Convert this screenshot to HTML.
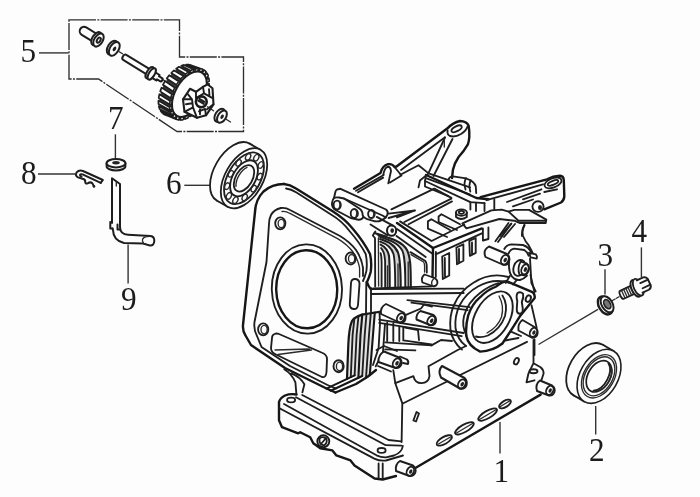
<!DOCTYPE html>
<html><head><meta charset="utf-8">
<style>
html,body{margin:0;padding:0;background:#fdfdfd;overflow:hidden;}
svg{display:block;filter:blur(0.45px);}
text{font-family:"Liberation Serif",serif;font-size:34px;fill:#1c1c1c;}
.l{fill:none;stroke:#1e1e1e;stroke-width:1.85;stroke-linecap:round;stroke-linejoin:round;}
.t{fill:none;stroke:#2a2a2a;stroke-width:1.35;stroke-linecap:round;stroke-linejoin:round;}
.k{fill:none;stroke:#161616;stroke-width:2.4;stroke-linecap:round;stroke-linejoin:round;}
.w{fill:#fdfdfd;stroke:#1e1e1e;stroke-width:1.85;stroke-linecap:round;stroke-linejoin:round;}
.b{stroke-width:2;}
.ld{fill:none;stroke:#333;stroke-width:1.4;}
.d{fill:#222;stroke:none;}
</style></head><body>
<svg width="700" height="497" viewBox="0 0 700 497">
<rect width="700" height="497" fill="#fdfdfd"/>
<g id="labels">
<text x="20.4" y="62.3" textLength="15.6" lengthAdjust="spacingAndGlyphs">5</text>
<text x="20.9" y="183.5" textLength="15.6" lengthAdjust="spacingAndGlyphs">8</text>
<text x="107.9" y="129.3" textLength="15.6" lengthAdjust="spacingAndGlyphs">7</text>
<text x="165.9" y="194.3" textLength="15.6" lengthAdjust="spacingAndGlyphs">6</text>
<text x="120.9" y="310" textLength="15.6" lengthAdjust="spacingAndGlyphs">9</text>
<text x="597.4" y="266.4" textLength="15.6" lengthAdjust="spacingAndGlyphs">3</text>
<text x="631.4" y="242.2" textLength="15.6" lengthAdjust="spacingAndGlyphs">4</text>
<text x="588.9" y="461.3" textLength="15.6" lengthAdjust="spacingAndGlyphs">2</text>
<text x="493.4" y="481.7" textLength="15.6" lengthAdjust="spacingAndGlyphs">1</text>
</g>
<g id="leaders" class="ld">
<path d="M39 52.9H68.5"/>
<path d="M38 174H75"/>
<path d="M115.4 134.3V158.5"/>
<path d="M184.3 185.3H211"/>
<path d="M128.1 244.5V283.6"/>
<path d="M605 269.3V294.5"/>
<path d="M641.4 247.4V277"/>
<path d="M595.7 406V434.5"/>
<path d="M500 422V453.6"/>
</g>
<path d="M69 19.8H179.5V57H243.5V131.5H177L98.5 79H69Z" fill="none" stroke="#2e2e2e" stroke-width="1.35" stroke-dasharray="27 1.3 2 1.3"/>
<g transform="translate(98.5 40.0) rotate(31.5)"><path class="w b" d="M-3 -4.3L-17 -4.3A4.3 4.3 0 0 0 -17 4.3L-3 4.3" /><ellipse class="w b" cx="-2.4" cy="0" rx="4.2" ry="7.3"/><ellipse class="w b" cx="0" cy="0" rx="4.2" ry="7.3"/><ellipse class="l b" cx="0.3" cy="0" rx="1.6" ry="2.8"/></g>
<g transform="translate(114.3 48.8) rotate(31.5)"><ellipse class="w b" cx="-2.4" cy="0" rx="4.4" ry="7.6"/><ellipse class="w b" cx="0" cy="0" rx="4.4" ry="7.6"/><ellipse class="d" cx="0.2" cy="0" rx="1.5" ry="2.6"/></g>
<path class="t" d="M118.8 51.5L122.5 53.8" />
<g transform="translate(150.7 73.3) rotate(31.5)"><path class="w b" d="M-2 -3L-30.5 -3A2 3 0 0 0 -30.5 3L-2 3" /><path class="w b" d="M2 -3.2H8.5V-1.8H12.5A1 1.8 0 0 1 12.5 1.8H8.5V3.2H2Z" /><ellipse class="w b" cx="-1.2" cy="0" rx="2.8" ry="6.4"/><ellipse class="w b" cx="1.2" cy="0" rx="2.8" ry="6.4"/></g>
<path class="t" d="M163.5 80L166 81.6" />
<ellipse transform="translate(177.9 90.0) rotate(30)" rx="14.8" ry="26.5" fill="#3a3a3a"/>
<ellipse transform="translate(189.4 94.2) rotate(30)" rx="14.7" ry="26.2" fill="#3a3a3a"/>
<path d="M202.3 103.5L199.9 106.9L186.6 104.8L189.1 101.5ZM198.0 109.4L195.3 112.3L181.8 109.6L184.6 107.0ZM193.1 114.2L190.2 116.4L176.7 113.2L179.7 111.3ZM188.0 117.7L185.1 119.0L171.7 115.1L174.6 114.2ZM183.0 119.6L180.3 119.9L167.2 115.4L169.7 115.4ZM178.4 119.8L176.1 119.1L163.3 113.9L165.4 114.9ZM174.5 118.2L172.8 116.5L160.5 110.8L162.0 112.7ZM171.7 115.0L170.6 112.5L158.8 106.2L159.6 109.0ZM170.1 110.3L169.7 107.2L158.4 100.6L158.5 103.9ZM169.8 104.6L170.2 101.0L159.4 94.2L158.7 97.9ZM170.8 98.2L172.0 94.3L161.6 87.6L160.2 91.4ZM173.1 91.5L174.9 87.7L165.0 81.1L162.9 84.8ZM176.5 84.9L178.9 81.5L169.2 75.2L166.7 78.5ZM180.8 79.0L183.5 76.1L174.0 70.4L171.2 73.0ZM185.7 74.2L188.6 72.0L179.1 66.8L176.1 68.7ZM190.8 70.7L193.7 69.4L184.1 64.9L181.2 65.8ZM195.8 68.8L198.5 68.5L188.6 64.6L186.1 64.6ZM200.4 68.6L202.7 69.3L192.5 66.1L190.4 65.1ZM204.3 70.2L206.0 71.9L195.3 69.2L193.8 67.3ZM207.1 73.4L208.2 75.9L197.0 73.8L196.2 71.0ZM208.7 78.1L209.1 81.2L197.4 79.4L197.3 76.1ZM209.0 83.8L208.6 87.4L196.4 85.8L197.1 82.1ZM208.0 90.2L206.8 94.1L194.2 92.4L195.6 88.6ZM205.7 96.9L203.9 100.7L190.8 98.9L192.9 95.2Z" fill="#fdfdfd" stroke="#1e1e1e" stroke-width="1.7" stroke-linejoin="round"/>
<path d="M201.1 102.0L202.3 103.5L199.9 106.9L198.4 105.9ZM197.3 107.2L198.0 109.4L195.3 112.3L194.3 110.5ZM193.0 111.6L193.1 114.2L190.2 116.4L189.8 114.1ZM188.5 114.8L188.0 117.7L185.1 119.0L185.2 116.3ZM184.0 116.6L183.0 119.6L180.3 119.9L181.0 117.0ZM179.9 116.9L178.4 119.8L176.1 119.1L177.3 116.1ZM176.5 115.6L174.5 118.2L172.8 116.5L174.5 113.7ZM173.9 112.8L171.7 115.0L170.6 112.5L172.7 110.0ZM172.4 108.8L170.1 110.3L169.7 107.2L172.0 105.3ZM172.0 103.8L169.8 104.6L170.2 101.0L172.5 99.8ZM172.8 98.2L170.8 98.2L172.0 94.3L174.1 93.9ZM174.8 92.2L173.1 91.5L174.9 87.7L176.8 88.0ZM177.7 86.4L176.5 84.9L178.9 81.5L180.4 82.5ZM181.5 81.2L180.8 79.0L183.5 76.1L184.5 77.9ZM185.8 76.8L185.7 74.2L188.6 72.0L189.0 74.3ZM190.3 73.6L190.8 70.7L193.7 69.4L193.6 72.1ZM194.8 71.8L195.8 68.8L198.5 68.5L197.8 71.4ZM198.9 71.5L200.4 68.6L202.7 69.3L201.5 72.3ZM202.3 72.8L204.3 70.2L206.0 71.9L204.3 74.7ZM204.9 75.6L207.1 73.4L208.2 75.9L206.1 78.4ZM206.4 79.6L208.7 78.1L209.1 81.2L206.8 83.1ZM206.8 84.6L209.0 83.8L208.6 87.4L206.3 88.6ZM206.0 90.2L208.0 90.2L206.8 94.1L204.7 94.5ZM204.0 96.2L205.7 96.9L203.9 100.7L202.0 100.4Z" fill="#fdfdfd" stroke="#1e1e1e" stroke-width="1.3" stroke-linejoin="round"/>
<ellipse class="w b" transform="translate(189.4 94.2) rotate(30)" rx="14.0" ry="25.0" />
<g transform="translate(0 1.3)">
<path class="w b" d="M190 87.5L196 90.5L203 85.5L207.5 83L212.5 87L213.5 103L206 114L197 116.5L184.5 110.5L183 98Z" style="stroke-width:2.1"/>
<path class="l b" d="M196 90.5L196 97M203 85.5L204 92L213 97M184.5 110.5L193 106L197 116.5M193 106L192 98L183 98M204 92L196 97M207 108L213.5 103M188 93L192 98M209 88L209.5 95M186 103L192 102M199 110L205 107.5L206 114M200 113L200 108" style="stroke-width:1.9"/>
<circle cx="201.3" cy="100.5" r="5.4" fill="#fdfdfd" stroke="#1a1a1a" stroke-width="2.6"/>
<path class="l b" d="M198.3 99.3L203.8 102.6M199.5 97.5L204.5 100.5" />
<path class="t" d="M207.5 105.5L213.5 109.5" />
</g>
<g transform="translate(221.6 116.4) rotate(31.5)"><ellipse class="w b" cx="-2.2" cy="0" rx="4.4" ry="7.2" style="stroke-width:2"/><ellipse class="w b" cx="0.4" cy="0" rx="4" ry="6.8"/><ellipse class="d" cx="0.6" cy="0" rx="1.5" ry="2.4"/></g>
<path class="t" d="M226.5 119.5L230.5 122" />
<path class="w b" d="M106.6 163.3V166.3A9.4 4.2 0 0 0 125.4 166.3V163.3" style="stroke-width:2"/>
<ellipse class="w b" cx="116" cy="163.2" rx="9.4" ry="4.2" style="stroke-width:2"/>
<ellipse class="d" cx="116" cy="162.8" rx="3.8" ry="1.7"/>
<path class="l b" d="M100.7 182.9L102.9 180L83 171Q79 169.6 76.6 172.4Q74.8 175.5 78 177.4L82.5 178.8Q85.6 179.4 85.2 182Q85.4 184.4 88 183.1Q90.6 181.6 92.3 183.3Q93.4 185 93.8 186.3" />
<path class="l b" d="M100.7 182.9L82.6 174.4Q80.6 173.7 79.9 174.9Q79.8 176 81.6 176.6" />
<circle class="d" cx="94" cy="186.4" r="1.3"/>
<path class="l b" d="M112 223V178.2L120 184V227Q120.2 234.5 128 234.8L150.5 236Q154.5 236.5 154.3 241Q154 245.8 150 245.5L143 243.6L124 243Q113.2 240.5 113 230L112.5 228.5" />
<path class="t" d="M116.3 181.5V186" />
<path class="l b" d="M110.3 222V228.5L112.5 228.5M117.5 224.5V229.5H120" />
<path class="t" d="M150 236.3Q141.5 236.5 142.5 241Q143 243.8 146 244.2" />
<ellipse class="w" transform="translate(233.2 172.1) rotate(30)" rx="18.9" ry="32.9" style="stroke-width:1.8"/>
<path d="M260.4 149.8 L249.6 143.6 L216.7 200.5 L227.6 206.8 Z" fill="#fdfdfd" stroke="none"/>
<path class="l" d="M260.4 149.8L249.6 143.6M216.7 200.5L227.6 206.8" style="stroke-width:1.8"/>
<ellipse class="w" transform="translate(244.0 178.3) rotate(30)" rx="18.9" ry="32.9" style="stroke-width:1.8"/>
<ellipse class="l" transform="translate(244.0 178.3) rotate(30)" rx="16.253999999999998" ry="28.293999999999997" />
<ellipse class="t" transform="translate(253.7 188.6) rotate(30)" rx="2.3" ry="3.5"/>
<ellipse class="t" transform="translate(244.7 197.4) rotate(30)" rx="2.3" ry="3.5"/>
<ellipse class="t" transform="translate(235.4 200.2) rotate(30)" rx="2.3" ry="3.5"/>
<ellipse class="t" transform="translate(228.9 195.9) rotate(30)" rx="2.3" ry="3.5"/>
<ellipse class="t" transform="translate(227.1 186.1) rotate(30)" rx="2.3" ry="3.5"/>
<ellipse class="t" transform="translate(230.8 173.8) rotate(30)" rx="2.3" ry="3.5"/>
<ellipse class="t" transform="translate(238.6 162.9) rotate(30)" rx="2.3" ry="3.5"/>
<ellipse class="t" transform="translate(248.1 156.9) rotate(30)" rx="2.3" ry="3.5"/>
<ellipse class="t" transform="translate(256.3 157.7) rotate(30)" rx="2.3" ry="3.5"/>
<ellipse class="t" transform="translate(260.7 165.0) rotate(30)" rx="2.3" ry="3.5"/>
<ellipse class="t" transform="translate(259.7 176.6) rotate(30)" rx="2.3" ry="3.5"/>
<ellipse class="w" transform="translate(244.0 178.3) rotate(30)" rx="11.339999999999998" ry="19.74" />
<ellipse class="l" transform="translate(244.0 178.3) rotate(30)" rx="8.315999999999999" ry="14.475999999999999" style="stroke-width:1.8"/>
<g transform="translate(244.0 178.3) rotate(30)"><path class="t" d="M-2.9 -11A8.3 14.5 0 0 0 -2.9 11"/></g>
<path class="ld" d="M598 309.3L538.5 344.5" />
<path class="t" d="M612.5 300.5L619.5 296.5" stroke-dasharray="3 1.5"/>
<g transform="translate(606.6 304.6) rotate(-31)"><ellipse class="w" cx="-1.6" cy="0" rx="6.3" ry="9.8" style="stroke-width:2.4"/><ellipse class="w" cx="0.6" cy="0" rx="5.4" ry="8.8" style="stroke-width:2"/><ellipse cx="0.8" cy="0" rx="3" ry="5" fill="#777" stroke="#222" stroke-width="1.6"/></g>
<g transform="translate(637.4 287.6) rotate(-25)"><path class="w" d="M-3 -4.4H-17A1.8 4.4 0 0 0 -17 4.4H-3" /><path class="t" d="M-15.6 -4.4V4.4M-13.2 -4.4V4.4M-10.8 -4.4V4.4M-8.4 -4.4V4.4M-6 -4.4V4.4" /><ellipse class="w" cx="-1.6" cy="0" rx="4.4" ry="9" style="stroke-width:2"/><ellipse class="w" cx="1" cy="0" rx="4.4" ry="9" style="stroke-width:1.8"/><path class="w" d="M2.5 -6.8H9.5Q12.5 -6 13 -3.4V3.6Q12.5 6.2 9.5 6.8H2.5" style="stroke-width:1.9"/><path class="l" d="M4.5 -2.8H13M4.5 2.8H13" /></g>
<ellipse class="w" transform="translate(588.2 370.1) rotate(30)" rx="19" ry="29.2" style="stroke-width:1.8"/>
<path d="M613.6 351.0 L602.8 344.8 L573.6 395.3 L584.4 401.6 Z" fill="#fdfdfd" stroke="none"/>
<path class="l" d="M613.6 351.0L602.8 344.8M573.6 395.3L584.4 401.6" style="stroke-width:1.8"/>
<ellipse class="w" transform="translate(599.0 376.3) rotate(30)" rx="19" ry="29.2" style="stroke-width:1.6"/>
<ellipse class="t" transform="translate(599.0 376.3) rotate(30)" rx="15.200000000000001" ry="23.36" />
<ellipse class="t" transform="translate(599.0 376.3) rotate(30)" rx="13.68" ry="21.023999999999997" />
<ellipse class="l" transform="translate(599.0 376.3) rotate(30)" rx="11.02" ry="16.936" style="stroke-width:1.7"/>
<g transform="translate(599.0 376.3) rotate(30)"><path class="l" d="M1.5 -16.1A11.0 16.9 0 0 1 2.5 15.2"/><path class="t" d="M4.5 -14.6A9.5 14.6 0 0 1 5.5 12.8"/></g>
<g id="flange">
<!-- outer outline -->
<path class="k" d="M284 184Q272 184 263.5 191.5Q255.5 199.5 255 212L243 325Q242.5 331 245.5 335.5L251 345L285 368L325.5 388L335.5 392.5"/>
<path class="k" d="M284 184Q290 184.5 296 188.5L333 211.5Q345 219 353 229Q364 242 370 254Q372 262 370.7 272Q369 278 367 282Q368 286 371 289.5"/>
<!-- second (thickness) line -->
<path class="l" d="M286 188.5Q291 189 296.5 192.5L331 214.5Q342 221 349.5 231Q360 243 365.7 254Q367.5 262 366.4 271Q365 277 363 281"/>
<!-- gasket face -->
<path class="l" d="M281 208Q274 209.5 271 215Q269 219 269 224L266.5 262L254.5 322Q253.5 330 257 336L261.5 347L290 366L327.5 385L336 388.5"/>
<path class="l" d="M281 208Q286 207.5 290 210L340 236Q350 242 356 250Q361.5 258 363 268L363 276"/>
<path class="t" d="M282 211.5Q286 211 289.5 213.2L338 238.8Q347.5 244.5 353 252Q358 259.5 359.6 268L359.6 277"/>
<!-- bore -->
<ellipse class="l" transform="translate(306.9 289) rotate(-1.5)" rx="35.1" ry="44.6"/>
<ellipse class="k" transform="translate(306.7 289.3) rotate(-1.5)" rx="30.5" ry="39"/>
<!-- bolt holes -->
<ellipse class="l" cx="280.3" cy="223.3" rx="5.1" ry="6"/>
<ellipse class="t" cx="281.2" cy="223.5" rx="3.1" ry="4.2"/>
<ellipse class="l" cx="350.7" cy="258.5" rx="5.1" ry="6"/>
<ellipse class="t" cx="351.6" cy="258.7" rx="3.1" ry="4.2"/>
<ellipse class="l" cx="263.2" cy="329.4" rx="5.1" ry="6"/>
<ellipse class="t" cx="264.1" cy="329.6" rx="3.1" ry="4.2"/>
<ellipse class="l" cx="338.6" cy="366.2" rx="5.1" ry="6"/>
<ellipse class="t" cx="339.5" cy="366.4" rx="3.1" ry="4.2"/>
<!-- slot -->
<path class="l" d="M351 283Q351.5 278.5 355.5 279Q359.5 279.5 359.5 284L358 305Q357.5 309.5 353.5 309Q349.5 308.5 349.8 304Z"/>
<!-- intake window -->
<path class="l" d="M274.5 334Q272 335 272 338L271 348Q271 352 275 354L322 377Q326 378 326.5 372L327 359Q327 354.5 321.5 352.5L279 334Q276.5 333 274.5 334Z"/>
<path class="t" d="M275 350L309.5 349M278 354.5L311.5 350"/>
</g>

<g id="fins1">
<path class="l" d="M375.3 231.5L372.8 235.5L375 238L375.2 286.5"/>
<path class="t" d="M378.4 238L378.6 286"/>
<!-- nested arches -->
<path d="M377.6 234.6C390 238 402 241 407 250C410.5 257 410.8 266 410.8 288H405.3C405.3 266 405 257 402.5 251C398.5 243 390 240 379.1 236.6Z" fill="#d2d2d2"/>
<path d="M380.1 239.1C389 242 395 245 398 252.5C400.3 259 400.7 267 400.7 288H395.2C395.2 268 395 260 393.5 254C391.5 247 387 244 380.1 241.6Z" fill="#d2d2d2"/>
<path d="M380.6 244.6C385.5 247 388 250 389 256C389.7 262 389.7 268 389.7 287H385.2L385.1 261C384.8 255 383.8 251 381.1 248.1Z" fill="#d2d2d2"/>
<path class="l" style="stroke-width:2.1" d="M377.6 234.6C390 238 402 241 407 250C410.5 257 410.8 266 410.8 288"/>
<path class="l" d="M379.1 236.6C390 240 398.5 243 402.5 251C405 257 405.3 266 405.3 288"/>
<path class="l" style="stroke-width:2.1" d="M380.1 239.1C389 242 395 245 398 252.5C400.3 259 400.7 267 400.7 288"/>
<path class="l" d="M380.1 241.6C387 244 391.5 247 393.5 254C395 260 395.2 268 395.2 288"/>
<path class="l" style="stroke-width:2.1" d="M380.6 244.6C385.5 247 388 250 389 256C389.7 262 389.7 268 389.7 287"/>
<path class="l" d="M381.1 248.1C383.8 251 384.8 255 385.1 261L385.2 287"/>
<path class="l" d="M380.6 253.2C381.5 256 381.6 259 381.6 262L381.6 286.5"/>
<path class="t" d="M408.2 262L408.3 288M398 264L398.1 288M387.5 266L387.5 287"/>
<!-- bottom line -->
<path class="l" d="M373 288.3L431.5 286.4"/>
<!-- cylinder top edge -->
<path class="l" d="M374.5 233L386 236.5M396.5 236L425.7 257"/>
<path class="l" d="M410.4 252.1L425 260.7Q426.6 262.5 426.7 265L426.8 272.5"/><path class="t" d="M411 254.6L423.6 262Q424.6 263.5 424.6 266L424.6 272"/>
<!-- pin -->
<ellipse cx="391.6" cy="230.6" rx="4.6" ry="5.2" fill="#fdfdfd" stroke="#1a1a1a" stroke-width="2"/>
<ellipse class="d" cx="392.2" cy="230.6" rx="1.8" ry="2.4"/>
<!-- dowel -->
<path class="w" d="M424.5 274.5L434.5 278Q438 280 437.3 283.5Q436 287 432.5 286L422.5 282.5Q420.5 278 424.5 274.5Z"/>
<path class="t" d="M432.5 286Q430 282 434.5 278"/>
</g>
<g id="arms">
<!-- upper arm -->
<path class="k" d="M354 188.7L380.5 173Q382.5 165.5 388 164.2Q392.5 163.5 394.5 167L396.5 166.5L447.5 128.3Q453 122.5 460 121Q466.5 121.3 468.6 125.5Q469.6 131 469.3 137Q469 141.5 467.9 144.3Q464 151 458.6 157Q454.5 163 452.9 170L452 178"/>
<path class="l" d="M358 192.2L383.2 177.6M356 190.7L383.7 175M401 170L445 137.3"/>
<ellipse class="l" transform="translate(456.6 128.8) rotate(-27)" rx="5.6" ry="2.4"/>
<path class="l" d="M447.6 130.5Q446.8 134.5 450 136Q455 137.5 461 134Q466.5 130.5 467.5 126.5"/>
<path class="l" d="M445 137.5L428.6 172.9M452.5 139L433.5 176"/>
<path class="t" d="M444.3 139L444.3 147"/>
<!-- lug -->
<path class="l" d="M383.3 174.5Q384.5 168 387.5 166.8Q390.5 166.5 391 171L388.3 183.4M394.5 167Q397 170 401.5 175.5L390 182.5"/>
<!-- box top -->
<path class="l" d="M400.4 174.8L418.5 165.3L428.6 173.4L470 187.4"/>
<path class="l" d="M428.6 173.4L420 180.5L418.5 187.4M426.6 178.4L470 194.5"/>
</g>
<g id="linkplate">
<path class="w" d="M337 189.5L340.5 188.8L386 209.5Q388.5 211.5 387.5 214.5L385.7 217.5Q381 222 375 221.3L366.4 218.8L363.5 217Q361.5 220 358.5 219.8L350.7 218L335.5 210Q331.5 207 332 203Q332.5 199.5 334 198L335.5 191.5Q336 190 337 189.5Z" style="stroke-width:1.9"/>
<path class="l" d="M334 198Q336 197 339 197.5L344 198.5L382.5 215.5Q385 217 385.7 217.5"/>
<path class="l" d="M344 198.5L359 208.3Q362.8 211 362.6 215L363.5 217"/>
<ellipse class="l" cx="337.2" cy="205" rx="3.6" ry="4.4"/>
<ellipse class="l" cx="354.3" cy="213.4" rx="3.6" ry="4.4"/>
<ellipse class="l" cx="371.4" cy="214" rx="3.3" ry="4"/>
<path class="t" d="M339 201.5Q341 205 338.8 208.5M356 210Q358 213.5 356 217M373 211Q374.8 214 373 217.3"/>
</g>
<g id="boxtop">
<!-- crossbeam -->
<path class="k" d="M426 175L476.4 198L488.5 199.2"/>
<path class="l" d="M426 175L425 181L470.4 202.2L484.5 203.2"/>
<path class="l" d="M425 181V186.5L448.3 196.2M470.4 202.2V209.5M476 203V211M484.5 203.2V211"/>
<!-- boss on beam -->
<path class="l" d="M448.5 180Q449 176.5 453 176.3L466 178.3Q474.5 181 475.8 186.5L476.2 193"/>
<path class="l" d="M466 178.3Q463.3 183 465.5 189.5M470.8 180.3Q468.3 185 470.3 191.5"/>
<!-- right arm -->
<path class="k" d="M480.5 197.2L547 179.3Q553 176 560 175.7Q563.6 176 563.8 180L564.3 196.4Q564 200.5 561 202.5L544.3 209.3"/>
<path class="l" d="M486.5 200.2L543 184.3M507 202L541.4 189.3M523 199.3L540 193.6M513 206.4L533 199.5M544.3 192L557 189.3"/>
<ellipse class="l" transform="translate(553 182.9) rotate(-22)" rx="9" ry="4.6"/>
<ellipse class="l" transform="translate(553 182.9) rotate(-22)" rx="5.6" ry="1.9"/>
<ellipse class="w" cx="538" cy="206.6" rx="5.6" ry="5.3" style="stroke-width:1.9"/>
<ellipse class="d" cx="540" cy="207.5" rx="2" ry="2.6"/>
<path class="l" d="M494.3 199.5V210M524.3 225Q521.5 230 522 236M511.4 223.6L500 236M515 224L504 237"/>
<!-- baffle plate -->
<path class="w" d="M462.4 223.4L491.4 210.4L501.7 209.6L508.6 211.6L514.3 209.9L529 209.9L546.3 219.6L545.7 223L520 223L514.3 220.7L499.4 219L466.4 228.4Z" style="stroke-width:1.9"/>
<path class="l" d="M508.6 211.6L518.5 220.7L545 220.7"/>
<!-- small boss -->
<path class="w" d="M456 212.5V217Q461 221 466.8 217V212.5"/>
<ellipse class="w" cx="461.4" cy="212.5" rx="5.4" ry="3.2"/>
<ellipse class="l" cx="461.4" cy="212.3" rx="2.6" ry="1.5"/>
</g>
<g id="boxinner">
<path class="l" d="M391.4 209.3L434.3 188.6L451.4 197.9"/>
<path class="l" d="M404.3 222L451.4 198.6M408.6 224.3L452 201.4"/>
<path class="l" d="M388.6 213.6L415 210.5L388.6 218M415 210.5L397 217.5"/>
<!-- ribs -->
<path class="l" d="M427.9 221.4L431.4 219.3L450 230M427.9 221.4V228.6L447.1 237"/>
<path class="l" d="M438.6 216.4L441.4 214.3L460 224.3M438.6 216.4V222L457 230"/>
<!-- near-left top edge -->
<path class="k" d="M397 222.9L433 248L481.4 228.6"/>
<path class="l" d="M400 221.4L431.6 241L464.3 224.5"/>
<path class="l" d="M397 229L432.9 254"/>
<!-- tube to pin -->
<path class="l" d="M376.7 216.9L393 225.6M370.5 224.5L387.5 235.3" style="stroke-width:1.9"/>
</g>
<g id="boxright">
<path class="k" d="M433 248L432.5 277"/>
<path class="l" d="M435.9 252L435.8 277"/>
<path class="l" d="M435.7 254.3L482.9 232.9M482.9 228.5V240.5L488.4 239V227.5"/>
<!-- slots -->
<path class="l" d="M442.2 256.5L449.2 253V275.5L442.8 279ZM444.8 258L445 276.5"/>
<path class="l" d="M456.4 247.5L463.4 244.3V260.7L457 264.3ZM459 249V262"/>
<path class="l" d="M469.3 240.9L475.7 238V252.9L469.9 255.9ZM472 242.5V253.5"/>
<!-- stud 1 -->
<path class="w" d="M489 246.5L507 254Q510.5 257 509 261.5Q507 266 502.5 264.5L485.5 257Q482.5 250 489 246.5Z" style="stroke-width:1.9"/>
<ellipse class="l" transform="translate(504.8 259.8) rotate(25)" rx="3.6" ry="5"/>
<ellipse class="d" transform="translate(505.2 260) rotate(25)" rx="1.6" ry="2.4"/>
<!-- rod -->
<path class="l" d="M508.5 223L495.4 241.2M511 224L498 242"/>
<!-- right body edge top -->
<path class="l" d="M524.6 225Q521.5 231 523 236Q525.5 242 528.6 245.2L532.7 253"/>
<!-- boss arcs -->
<path class="l" d="M504.3 249Q506.5 244.5 511.4 244.3L522.9 245Q529 247 531.4 252.9"/>
<path class="l" d="M508.5 253.5Q510.5 249 514.3 248.6L524.3 250Q527.5 252 528.6 255.7"/>
<path class="w" d="M529 252.8L535.8 254.4Q537.6 256.5 536.6 258.6L530.6 257.4Z"/>
<path class="l" d="M530 258.6L531.4 283L535.7 291.4"/>
<!-- boss body -->
<path class="l" d="M509 261.5Q508.5 268 510 272.9Q511.5 277 514.3 278.6Q517 280.3 520 280Q524 279 527 275.7"/>
<path class="l" d="M510 275.7L505.7 282.9M517 279.6L513 284.5"/>
<!-- collar + stud 2 -->
<ellipse class="w" transform="translate(519.3 267.9) rotate(20)" rx="5.7" ry="8.2" style="stroke-width:1.9"/>
<path class="w" d="M520.7 261.6L526.6 263.4Q529.5 266 528.8 270Q527.5 274.5 524.3 275.4L519.5 274.6Q517 268 520.7 261.6Z" style="stroke-width:1.8"/>
<ellipse class="l" transform="translate(525 269.3) rotate(22)" rx="3.4" ry="5.2"/>
<ellipse class="d" transform="translate(525.4 269.5) rotate(22)" rx="1.6" ry="2.5"/>
</g>
<g id="port">
<!-- flange plate -->
<path class="k" d="M506.4 281.2L532.5 292.2Q535.5 295 534.5 298.3L520.5 315.4L510.4 331.4L502.4 343.5Q493 351 480.2 351.6Q468 346 466.2 335.5Q465.5 325 468.2 315.4Q472 304 480.2 297.2Q487 290 496.3 286.5Q501.5 281.5 506.4 281.2Z"/>
<ellipse class="l" transform="translate(492.4 317.2) rotate(30)" rx="17" ry="28.1" style="stroke-width:1.9"/>
<path class="l" d="M502.4 295.5Q508 304 505 316Q500.5 329 488 335.5Q481 338 476 336.5"/>
<path class="t" d="M499 296Q504.5 306 501.5 317Q498 327 487 333"/>
<!-- keyhole + hole -->
<path class="l" d="M517.5 293Q520.5 291.3 523 293.6Q524 297.5 521.8 302L522.8 309Q522.8 313.8 519.6 313.8Q516.4 313.3 516.8 308L517.3 301Q515.8 296 517.5 293Z" style="stroke-width:1.9"/>
<ellipse class="l" transform="translate(528.3 298.6) rotate(25)" rx="2.4" ry="3.4" style="stroke-width:1.9"/>
<!-- neck arcs -->
<path class="l" d="M462 349.6Q452.5 342 450.5 330Q449 316 454 305Q460 291 473 283Q490 272 508.4 277"/>
<path class="l" d="M466 346Q457.5 340 455.5 328Q454.5 316 459.5 305.5Q466 293 478 286.5Q494 277.5 510.4 283.2"/>
<path class="l" d="M466.5 335Q461.5 327 464 316Q468 302 480 293Q489 286 498.3 283.2"/>
<!-- left horizontals -->
<!-- right body edge -->
<path class="l" d="M530.5 275L534.5 292.2M531.5 305.3L536.6 327.4M534.5 339.5V355"/>
<!-- lower stud -->
<path class="w" d="M522.5 320L534.5 327Q538.5 330 537.5 334Q536 338.5 531.5 337.5L518.5 330.5Q517.5 323.5 522.5 320Z" style="stroke-width:1.9"/>
<ellipse class="l" transform="translate(533.5 332.3) rotate(28)" rx="3.4" ry="4.8"/>
<ellipse class="d" transform="translate(533.9 332.5) rotate(28)" rx="1.5" ry="2.3"/>
<path class="l" d="M510.4 331.4L521 336M505 340.5L518.5 338"/>
</g>
<g id="middle">
<path class="l" d="M371 289L463.7 288.6M371 294L463.7 293"/>
<path class="l" d="M366.3 282L366 314M371 288L371 312"/>
<!-- stud A -->
<path class="w" d="M386 304L403.5 312.5Q406.5 315.5 405.3 319.5Q403.5 323.5 399.5 322.5L381 314Q380 307 386 304Z" style="stroke-width:1.9"/>
<ellipse class="l" transform="translate(400.8 317.8) rotate(28)" rx="3.5" ry="4.9"/>
<ellipse class="d" transform="translate(401.2 318) rotate(28)" rx="1.6" ry="2.4"/>
<!-- bracket + stud B -->
<path class="l" d="M405.4 315.2L421 308.5L424 304.5L432 306.5"/>
<g transform="translate(-0.5 2.5)"><path class="w" d="M421 308.5L434 312.5Q437.5 315.5 436.3 319.5Q434.5 323.5 430.5 322.5L417 317Q416.5 311 421 308.5Z" style="stroke-width:1.9"/>
<ellipse class="l" transform="translate(431.7 318) rotate(28)" rx="3.5" ry="4.9"/>
<ellipse class="d" transform="translate(432.1 318.2) rotate(28)" rx="1.6" ry="2.4"/></g>
<!-- rods -->
<path class="l" d="M379.2 319.7L463.7 333M379.2 322.9L461.7 336.2"/>
<path class="l" d="M407.4 300.1L469.7 307.2M411.4 302.6L467.7 310.2"/>
<!-- verticals + block -->
<path class="l" d="M387.2 322.5V341M393.3 323.5V341M399.3 326.5V341"/>
<path class="l" d="M385.2 342.4L431.5 345.4M385.2 349.4L415.4 350.4M403.3 327V340.4L431.5 344.4"/>
<path class="l" d="M405 327.5L418 330L419 340M431.5 345.4L441 340L452 341"/>
<!-- lower fins bank -->
<path d="M347 378.9L348.3 345Q349 328 352 321Q354 317.5 362 314.6L375.2 312.5L374.8 312.6L373 335L369.8 375L366 377.8L362.2 376L358.4 377.8L354.6 375.4Z" fill="#e2e2e2"/>
<path class="k" style="stroke-width:2.2" d="M347 378.9L348.3 345Q349 328 352 321Q354 317.5 362 314.6L375.2 312.5L379.5 311.8"/>
<path class="l" d="M350.8 377.1L352.6 335L354.5 318"/>
<path class="l" d="M354.6 375.4L356.6 335L358.5 316"/>
<path class="k" style="stroke-width:2.1" d="M358.4 377.8L360.5 335L362.3 314.6"/>
<path class="l" d="M362.2 376L364.7 335L366.5 313.9"/>
<path class="l" d="M366 377.8L369 335L370.8 313.2"/>
<path class="k" style="stroke-width:2.1" d="M369.8 375L373 335L374.8 312.6"/>
<path class="k" style="stroke-width:2.1" d="M326.4 388.6L354.6 375.4M330.7 390.7L362.2 376"/>
<path class="l" d="M379.5 311.8L380 323.6L378.6 348L373 365M385 323.6L383 352L375.7 366.4"/>
<!-- flange bottom right -->
<path class="k" d="M335.5 392.5L356 384L368 376.5L376 370"/>
<!-- stud C -->
<path class="w" d="M384 351.5L399 357.5Q402.5 360.5 401.3 364.5Q399.5 368.5 395.5 368L378.5 362Q378 355 384 351.5Z" style="stroke-width:1.9"/>
<ellipse class="l" transform="translate(396.6 363) rotate(28)" rx="3.5" ry="4.9"/>
<ellipse class="d" transform="translate(397 363.2) rotate(28)" rx="1.6" ry="2.4"/>
<path class="l" d="M400 356.5L407 359.5Q409 361.5 408 364L403 363"/>
<path class="l" d="M376.5 350L384 346L397 351M378 366L391 371.5"/>
<!-- crankcase upper edge -->
<path class="l" d="M393.3 370.2L395.3 383.2L413.4 376.2Q415 383 421.4 383.2Q428.5 383 429.5 376.2L428.5 366.2L457.7 350L466 346"/>
<path class="l" d="M395.3 383.2L402.3 403.4L401.6 442"/>
<path class="l" d="M402.8 403.5L527 341.8"/>
<!-- stud D -->
<path class="w" d="M442 366L464.5 378Q467.5 381 466.5 385Q464.5 389.5 460 388.5L441 377.5Q437.5 371 442 366Z" style="stroke-width:2.1"/>
<ellipse class="l" transform="translate(461.8 384) rotate(28)" rx="3.5" ry="4.9"/>
<ellipse class="d" transform="translate(462.2 384.2) rotate(28)" rx="1.6" ry="2.4"/>
<!-- small mark -->
<path class="l" d="M413.4 420.5L416.5 412L419 413.5L416 421.5Z"/>
<!-- right lower -->
<path class="l" d="M533.5 340V363.2L540.6 367.2Q543.8 370 543.6 373.5L541.5 380M533.5 363.2L528.5 373.3L526.5 382.3L534.5 380.3"/>
<ellipse class="l" cx="533.5" cy="371.2" rx="4" ry="2"/>
<ellipse class="l" transform="translate(516.4 361.2) rotate(25)" rx="2.2" ry="3.4"/>
<path class="w" d="M540 380.5L552 385.5Q555.5 388 554.5 392Q553 396 549 395.5L537 391Q535 384 540 380.5Z" style="stroke-width:1.9"/>
<ellipse class="l" transform="translate(549.8 390.3) rotate(28)" rx="3.4" ry="4.8"/>
<ellipse class="d" transform="translate(550.2 390.5) rotate(28)" rx="1.5" ry="2.3"/>
</g>
<g id="base">
<path class="k" d="M296.5 394.5Q290 393.5 285 395.5Q280 398 279 402V420.2L282 427.2L298.2 433.3L300.2 432.2L310.2 437.3L313.3 443.3L320.3 448.3L332.4 450.4L336.4 455.4L350.5 460.4L354.5 465.4L374.6 478.5L382.7 479.5L396 476"/>
<path class="l" d="M302.2 395L388.6 440L401 441.4"/>
<path class="l" d="M296 397.2L385.7 445.2L401.4 445.6"/>
<path class="l" d="M284 404L376.5 455.3Q381 457.5 386 457.3L394 455.5Q402 452.5 402.8 446"/>
<path class="l" d="M279 408L374.3 458.6Q380 461.3 386 460.5L403 455.5"/>
<path class="l" d="M378.6 463.4V478.5M382.7 463.4V479"/>
<ellipse class="l" cx="291.1" cy="400" rx="4" ry="2.4"/>
<ellipse class="l" cx="381.6" cy="450.4" rx="4" ry="2.4"/>
<!-- drain plug -->
<circle cx="323.3" cy="441.3" r="6" fill="#fdfdfd" stroke="#1a1a1a" stroke-width="1.9"/>
<path class="l" d="M319.5 438.5Q323 435.5 326.5 439Q327.5 443 324.5 445Q320.5 445.5 319.5 441.5ZM321 444L326 438"/>
<!-- bracket flange->base -->
<path class="l" d="M284.3 369.2Q292 374 295.4 382.3L296.4 394.4M291.3 373.3Q300.5 377 304.4 384.3L302.4 392.4"/>
<!-- stud E -->
<path class="w" d="M400 461L413 465.5Q416.5 468.5 415.3 472.5Q413.5 476.5 409.5 476L396 471Q395 464 400 461Z" style="stroke-width:1.9"/>
<ellipse class="l" transform="translate(410.3 471.3) rotate(28)" rx="3.4" ry="4.8"/>
<ellipse class="d" transform="translate(410.7 471.5) rotate(28)" rx="1.5" ry="2.3"/>
<!-- bottom right edge -->
<path class="k" d="M416.2 467.5L540.6 394.6"/>
<!-- ovals -->
<g class="l">
<ellipse transform="translate(444.3 440.4) rotate(-30)" rx="8.6" ry="3.5"/>
<ellipse transform="translate(464.4 428.3) rotate(-30)" rx="10.6" ry="3.7"/>
<ellipse transform="translate(487.6 414.6) rotate(-30)" rx="10.6" ry="3.7"/>
<ellipse transform="translate(505 404) rotate(-32)" rx="6.6" ry="3.1"/>
</g>
<g class="t">
<path d="M438.5 444L450.5 437M456.5 433L472.5 423.5M479.5 419.5L495.5 410M500.5 406.5L509.5 401"/>
</g>
</g>

</svg>
</body></html>
